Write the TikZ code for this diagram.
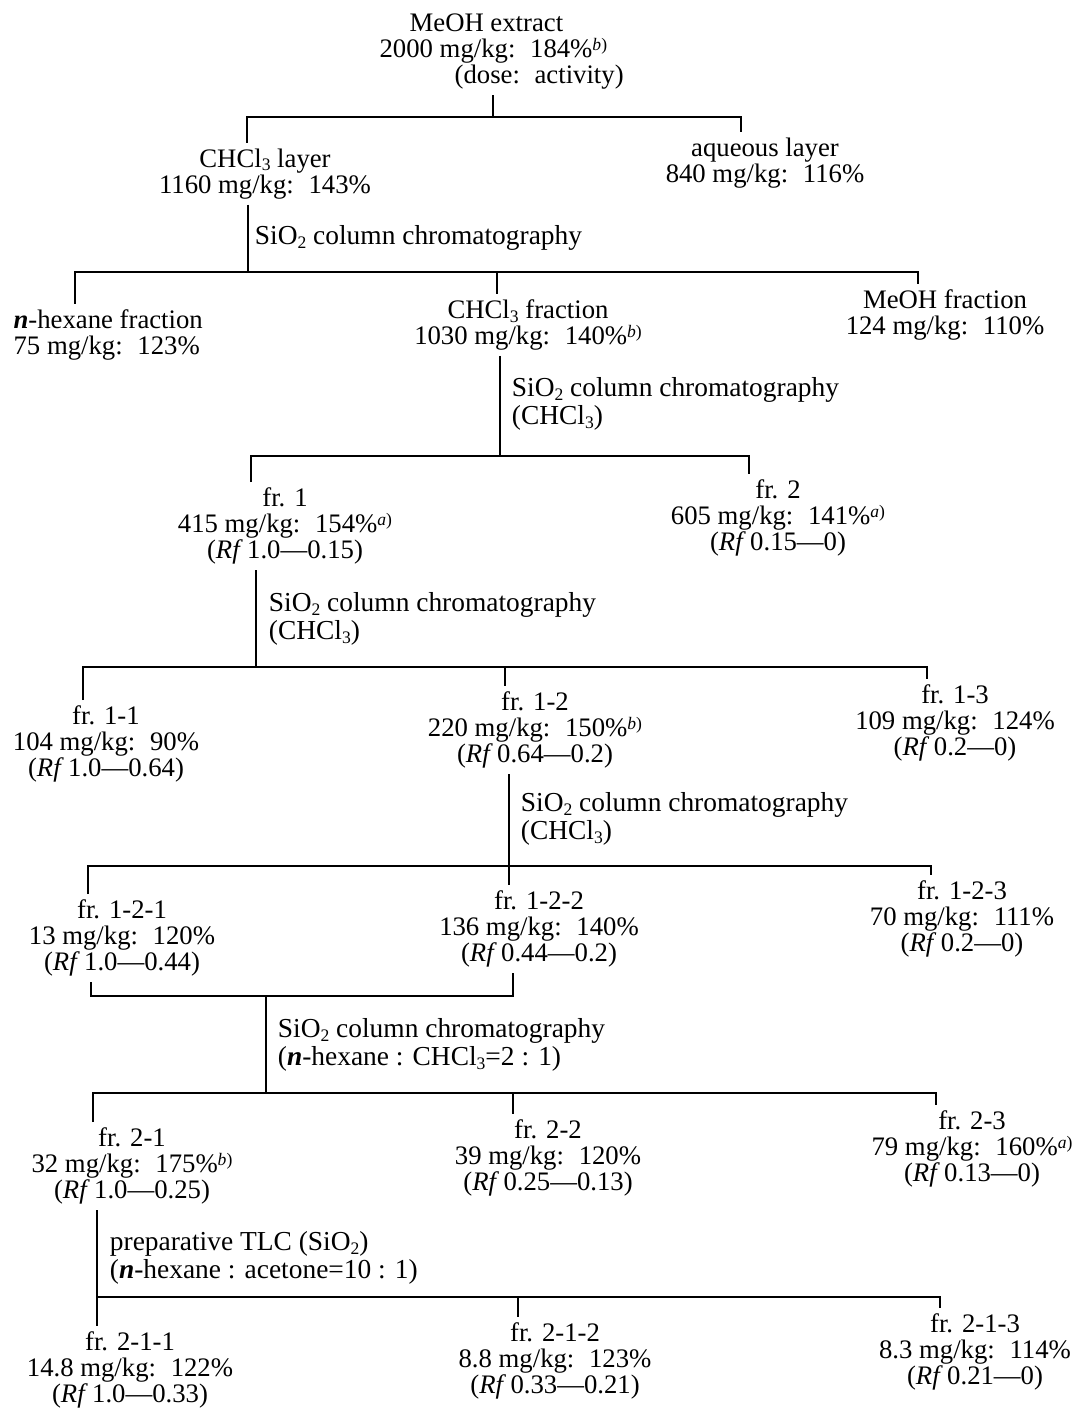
\documentclass[tikz,border=0pt]{standalone}
\usepackage{fontspec}
\setmainfont{Liberation Serif}
\newcommand{\dcol}{:\hspace{0.55em}}
\newcommand{\myCl}{CHCl\raisebox{-0.3ex}{\fontsize{12.5}{12.5}\selectfont 3}}
\newcommand{\mySi}{SiO\raisebox{-0.3ex}{\fontsize{12.5}{12.5}\selectfont 2}}
\newcommand{\myRf}{\textit{Rf}\,}
\newcommand{\myN}{\textbf{\textit{n}}}
\newcommand{\supA}{\raisebox{0.55ex}{\fontsize{12.5}{12.5}\selectfont\textit{a})}}
\newcommand{\supB}{\raisebox{0.55ex}{\fontsize{12.5}{12.5}\selectfont\textit{b})}}
\begin{document}
\begin{tikzpicture}[x=0.025cm, y=-0.025cm, line width=1.3pt,
	frac/.style={align=center, anchor=north, inner sep=0pt, outer sep=4pt, font=\fontsize{19}{18.6}\selectfont},
	method/.style={align=left, anchor=north west, inner sep=0pt, font=\fontsize{19.5}{19.6}\selectfont}]
	\useasboundingbox (0,0) rectangle (1079,1411);
	%fractions
	\node[frac, align=left, anchor=north west] (ext) at (374,8) {\hspace*{0.75cm}MeOH extract\\2000 mg/kg\dcol 184\%\supB\\\hspace*{1.875cm}(dose\dcol activity)};
	\node[frac] (chl) at (265,143) {\myCl{} layer\\1160 mg/kg\dcol 143\%};
	\node[frac] (aq) at (765,132) {aqueous layer\\840 mg/kg\dcol 116\%};
	\node[frac, align=left, anchor=north west] (hex) at (8,304) {\myN-hexane fraction\\75 mg/kg\dcol 123\%};
	\node[frac] (chf) at (528,294) {\myCl{} fraction\\1030 mg/kg\dcol 140\%\supB};
	\node[frac] (mof) at (945,284) {MeOH fraction\\124 mg/kg\dcol 110\%};
	\node[frac] (f1) at (285,482) {fr. 1\\415 mg/kg\dcol 154\%\supA\\(\myRf1.0---0.15)};
	\node[frac] (f2) at (778,474) {fr. 2\\605 mg/kg\dcol 141\%\supA\\(\myRf0.15---0)};
	\node[frac] (f11) at (106,700) {fr. 1-1\\104 mg/kg\dcol 90\%\\(\myRf1.0---0.64)};
	\node[frac] (f12) at (535,686) {fr. 1-2\\220 mg/kg\dcol 150\%\supB\\(\myRf0.64---0.2)};
	\node[frac] (f13) at (955,679) {fr. 1-3\\109 mg/kg\dcol 124\%\\(\myRf0.2---0)};
	\node[frac] (f121) at (122,894) {fr. 1-2-1\\13 mg/kg\dcol 120\%\\(\myRf1.0---0.44)};
	\node[frac] (f122) at (539,885) {fr. 1-2-2\\136 mg/kg\dcol 140\%\\(\myRf0.44---0.2)};
	\node[frac] (f123) at (962,875) {fr. 1-2-3\\70 mg/kg\dcol 111\%\\(\myRf0.2---0)};
	\node[frac] (f21) at (132,1122) {fr. 2-1\\32 mg/kg\dcol 175\%\supB\\(\myRf1.0---0.25)};
	\node[frac] (f22) at (548,1114) {fr. 2-2\\39 mg/kg\dcol 120\%\\(\myRf0.25---0.13)};
	\node[frac] (f23) at (972,1105) {fr. 2-3\\79 mg/kg\dcol 160\%\supA\\(\myRf0.13---0)};
	\node[frac] (f211) at (130,1326) {fr. 2-1-1\\14.8 mg/kg\dcol 122\%\\(\myRf1.0---0.33)};
	\node[frac] (f212) at (555,1317) {fr. 2-1-2\\8.8 mg/kg\dcol 123\%\\(\myRf0.33---0.21)};
	\node[frac] (f213) at (975,1308) {fr. 2-1-3\\8.3 mg/kg\dcol 114\%\\(\myRf0.21---0)};
	%methods
	\node[method] (m1) at (254,225) {\mySi{} column chromatography};
	\node[method] (m2) at (511,377) {\mySi{} column chromatography\\(\myCl)};
	\node[method] (m3) at (268,592) {\mySi{} column chromatography\\(\myCl)};
	\node[method] (m4) at (520,792) {\mySi{} column chromatography\\(\myCl)};
	\node[method] (m5) at (277,1018) {\mySi{} column chromatography\\(\myN-hexane : \myCl=2 : 1)};
	\node[method] (m6) at (109,1231) {preparative TLC (\mySi)\\(\myN-hexane : acetone=10 : 1)};
	%branch points
	\coordinate (j1) at (493,117);
	\coordinate (b1l) at (247,117);
	\coordinate (b1r) at (741,117);
	\coordinate (j2) at (248,272);
	\coordinate (b2l) at (75,272);
	\coordinate (b2m) at (497,272);
	\coordinate (b2r) at (918,272);
	\coordinate (j3) at (500,456);
	\coordinate (b3l) at (251,456);
	\coordinate (b3r) at (749,456);
	\coordinate (j4) at (256,667);
	\coordinate (b4l) at (83,667);
	\coordinate (b4m) at (505,667);
	\coordinate (b4r) at (927,667);
	\coordinate (j5) at (509,866);
	\coordinate (b5l) at (88,866);
	\coordinate (b5r) at (931,866);
	\coordinate (k6l) at (91,996);
	\coordinate (k6r) at (513,996);
	\coordinate (j6) at (266,996);
	\coordinate (j7) at (266,1093);
	\coordinate (b7l) at (93,1093);
	\coordinate (b7m) at (513,1093);
	\coordinate (b7r) at (936,1093);
	\coordinate (j8) at (97,1297);
	\coordinate (b8m) at (518,1297);
	\coordinate (b8r) at (940,1297);
	%tree
	\draw (ext.south -| j1) -- (j1);
	\draw (b1l |- chl.north) -- (b1l) -- (b1r) -- (b1r |- aq.north);
	\draw (chl.south -| j2) -- (j2);
	\draw (b2l |- hex.north) -- (b2l) -- (b2r) -- (b2r |- mof.north);
	\draw (b2m) -- (b2m |- chf.north);
	\draw (chf.south -| j3) -- (j3);
	\draw (b3l |- f1.north) -- (b3l) -- (b3r) -- (b3r |- f2.north);
	\draw (f1.south -| j4) -- (j4);
	\draw (b4l |- f11.north) -- (b4l) -- (b4r) -- (b4r |- f13.north);
	\draw (b4m) -- (b4m |- f12.north);
	\draw (f12.south -| j5) -- (j5 |- f122.north);
	\draw (b5l |- f121.north) -- (b5l) -- (b5r) -- (b5r |- f123.north);
	\draw (f121.south -| k6l) -- (k6l) -- (k6r) -- (f122.south -| k6r);
	\draw (j6) -- (j7);
	\draw (b7l |- f21.north) -- (b7l) -- (b7r) -- (b7r |- f23.north);
	\draw (b7m) -- (b7m |- f22.north);
	\draw (f21.south -| j8) -- (j8 |- f211.north);
	\draw (j8) -- (b8r) -- (b8r |- f213.north);
	\draw (b8m) -- (b8m |- f212.north);
\end{tikzpicture}
\end{document}
